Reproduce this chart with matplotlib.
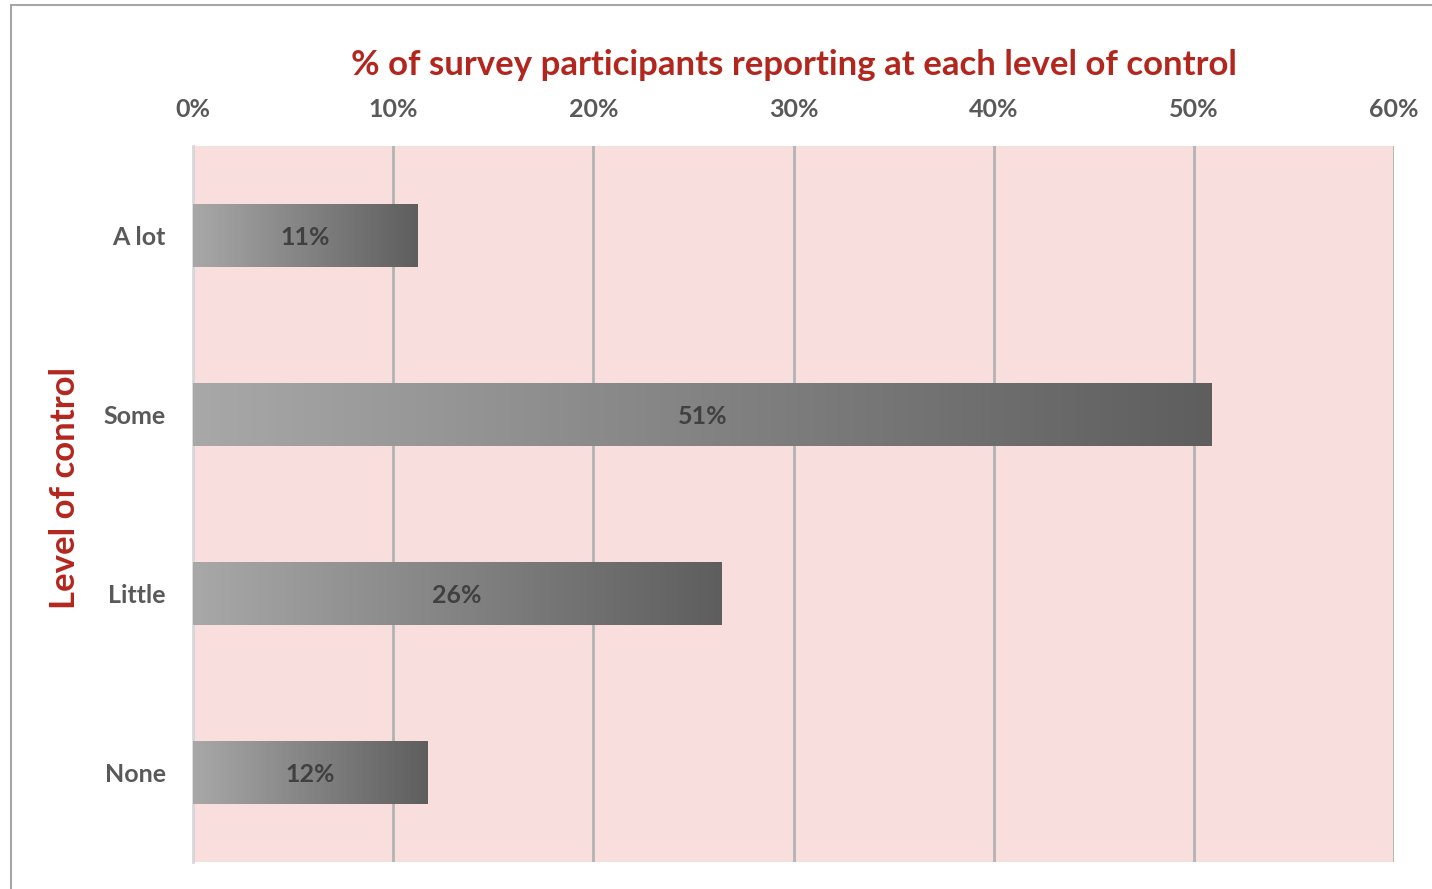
import matplotlib.pyplot as plt
import numpy as np
from matplotlib.patches import Rectangle

plt.rcParams['font.family'] = ['Lato', 'DejaVu Sans']

levels = ["A lot", "Some", "Little", "None"]
percent = [11.2, 50.9, 26.4, 11.7]
xticks = [0, 10, 20, 30, 40, 50, 60]

red = "#B3261E"
grey_text = "#595959"

fig = plt.figure(figsize=(14.32, 8.89), dpi=100)
W, H = 1432, 889
ax = fig.add_axes([193 / W, 1 - 862 / H, (1394 - 193) / W, (862 - 146) / H])

# outer frame of the chart
fig.patches.append(Rectangle((11 / W, -0.05), 1.1, 1 - 5 / H + 0.05, transform=fig.transFigure,
                             fill=False, edgecolor="#A6A6A6", linewidth=1.5, zorder=0))

ax.set_facecolor("#F8DEDC")

gradient = np.linspace(0, 1, 256).reshape(1, -1)
cmap = plt.matplotlib.colors.LinearSegmentedColormap.from_list("bar", ["#A8A8A8", "#5E5E5E"])
bar_h = 0.35
for i, v in enumerate(percent):
    ax.imshow(gradient, cmap=cmap, aspect="auto", zorder=3,
              extent=[0, v, i + bar_h / 2, i - bar_h / 2])
    ax.text(v / 2, i + 0.01, f"{v:.0f}%", ha="center", va="center", fontsize=18,
            fontweight="bold", color="#404040", zorder=4)
ax.set_xlim(0, 60)
ax.set_ylim(len(levels) - 0.5, -0.5)

ax.set_xticks(xticks)
ax.set_xticklabels([f"{t}%" for t in xticks])
ax.set_yticks(range(len(levels)))
ax.set_yticklabels(levels)
ax.xaxis.tick_top()
ax.tick_params(axis="x", length=0, pad=18, labelsize=18, labelcolor=grey_text)
ax.tick_params(axis="y", length=0, pad=19.5, labelsize=18, labelcolor=grey_text)
for lab in ax.get_xticklabels() + ax.get_yticklabels():
    lab.set_fontweight("bold")

ax.grid(axis="x", color="#B3B3B3", linewidth=2, zorder=1)
ax.set_axisbelow(True)
for side in ["top", "bottom", "right"]:
    ax.spines[side].set_visible(False)
ax.spines["left"].set_color("#D9D9D9")
ax.spines["left"].set_linewidth(2)

ax.set_title("% of survey participants reporting at each level of control",
             fontsize=25, fontweight="bold", color=red, pad=51)
ax.set_ylabel("Level of control", fontsize=25, fontweight="bold", color=red)
ax.yaxis.set_label_coords(-0.093, 0.522)

fig.savefig("out.png", dpi=100)
